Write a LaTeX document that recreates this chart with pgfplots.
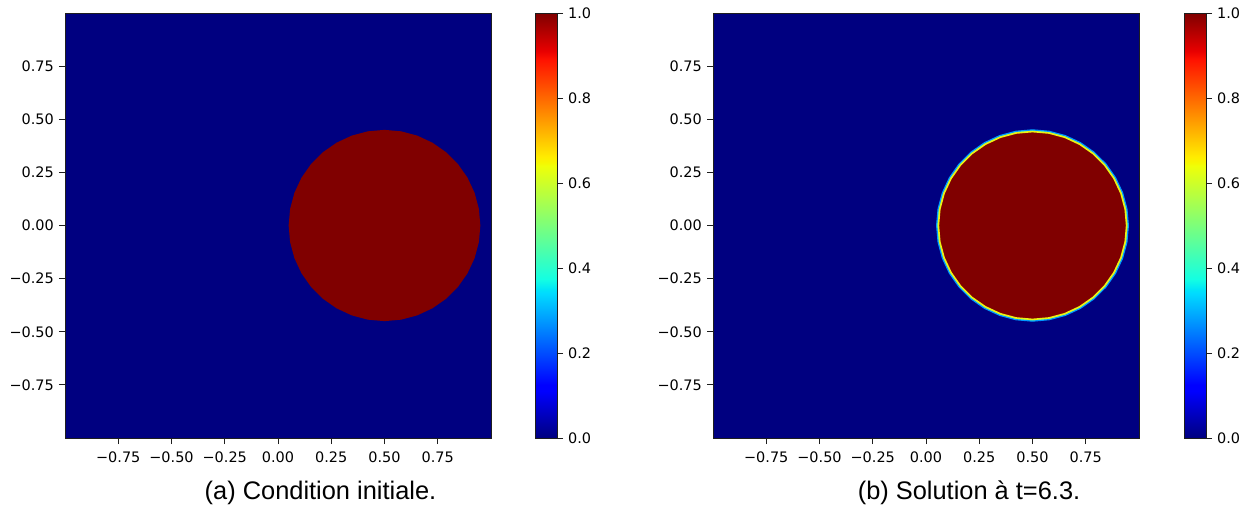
\documentclass[border=0pt]{standalone}
\usepackage{fontspec}
\usepackage{pgfplots}
\usepackage{pgfplotstable}
\pgfplotsset{compat=1.18}
\setmainfont{DejaVu Sans}
\newfontfamily\tickfamily{DejaVu Sans}
\newfontfamily\capfamily{Liberation Sans}
\newcommand\tickfont{\tickfamily\fontsize{14.5}{17}\selectfont}
\newcommand\capfont{\capfamily\fontsize{25.5}{30}\selectfont}

\definecolor{jlow}{rgb}{0,0,0.5}
\definecolor{jhigh}{rgb}{0.5,0,0}
\definecolor{ringA}{RGB}{0,150,255}
\definecolor{ringB}{RGB}{60,255,190}
\definecolor{ringC}{RGB}{235,240,20}
\definecolor{frame}{RGB}{30,30,30}

\pgfplotsset{
  colormap={mpljet}{
    rgb(0pt)=(0,0,0.5); rgb(110pt)=(0,0,1); rgb(125pt)=(0,0,1);
    rgb(340pt)=(0,0.86,1); rgb(350pt)=(0,0.9,0.9677); rgb(375pt)=(0.0806,1,0.8871);
    rgb(640pt)=(0.9355,1,0.0323); rgb(650pt)=(0.9677,0.963,0); rgb(660pt)=(1,0.9259,0);
    rgb(890pt)=(1,0.0741,0); rgb(910pt)=(0.9091,0,0); rgb(1000pt)=(0.5,0,0)
  },
  myax/.style={
    scale only axis, width=426bp, height=425bp,
    xmin=-1, xmax=1, ymin=-1, ymax=1,
    axis on top,
    tick align=outside, tick pos=left,
    major tick length=6bp,
    xtick={-0.75,-0.5,-0.25,0,0.25,0.5,0.75},
    ytick={-0.75,-0.5,-0.25,0,0.25,0.5,0.75},
    xticklabels={−0.75,−0.50,−0.25,0.00,0.25,0.50,0.75},
    yticklabels={−0.75,−0.50,−0.25,0.00,0.25,0.50,0.75},
    ticklabel style={font=\tickfont, inner sep=0pt},
    xticklabel style={anchor=north, yshift=-8bp},
    yticklabel style={anchor=east, xshift=-5bp},
    every tick/.style={frame, line width=0.9bp},
    axis line style={frame, line width=0.9bp},
  },
  cbax/.style={
    scale only axis, width=22bp, height=425bp,
    xmin=0, xmax=1, ymin=0, ymax=1,
    axis on top,
    xtick=\empty,
    ytick={0,0.2,0.4,0.6,0.8,1},
    yticklabels={0.0,0.2,0.4,0.6,0.8,1.0},
    ytick pos=right, yticklabel pos=right,
    tick align=outside, major tick length=6bp,
    yticklabel style={font=\tickfont, inner sep=0pt, anchor=west, xshift=5bp},
    every tick/.style={frame, line width=0.9bp},
    axis line style={frame, line width=0.9bp},
    colormap name=mpljet,
    point meta min=0, point meta max=1,
  },
}

% domain square
\pgfplotstableread{
x y
-1 -1
1 -1
1 1
-1 1
}\domainsq

% colour scale samples (value = y)
\pgfplotstableread{
x y
0 0
1 0
0 0.11
1 0.11
0 0.125
1 0.125
0 0.34
1 0.34
0 0.35
1 0.35
0 0.375
1 0.375
0 0.64
1 0.64
0 0.65
1 0.65
0 0.66
1 0.66
0 0.89
1 0.89
0 0.91
1 0.91
0 1
1 1
}\cbdata

% boundary of the region u=1 (radius 0.45, centre (0.5,0))
\pgfplotstableread{
x y
0.95 0
0.94316 0.07814
0.92286 0.15391
0.88971 0.225
0.84472 0.28926
0.78926 0.34472
0.725 0.38971
0.65391 0.42286
0.57814 0.44316
0.5 0.45
0.42186 0.44316
0.34609 0.42286
0.275 0.38971
0.21074 0.34472
0.15528 0.28926
0.11029 0.225
0.07714 0.15391
0.05684 0.07814
0.05 0
0.05684 -0.07814
0.07714 -0.15391
0.11029 -0.225
0.15528 -0.28926
0.21074 -0.34472
0.275 -0.38971
0.34609 -0.42286
0.42186 -0.44316
0.5 -0.45
0.57814 -0.44316
0.65391 -0.42286
0.725 -0.38971
0.78926 -0.34472
0.84472 -0.28926
0.88971 -0.225
0.92286 -0.15391
0.94316 -0.07814
}\circA

% inner boundary of the smoothed front (radius 0.442)
\pgfplotstableread{
x y
0.942 0
0.93529 0.07675
0.91534 0.15117
0.88278 0.221
0.83859 0.28412
0.78412 0.33859
0.721 0.38278
0.65117 0.41534
0.57675 0.43529
0.5 0.442
0.42325 0.43529
0.34883 0.41534
0.279 0.38278
0.21588 0.33859
0.16141 0.28412
0.11722 0.221
0.08466 0.15117
0.06471 0.07675
0.058 0
0.06471 -0.07675
0.08466 -0.15117
0.11722 -0.221
0.16141 -0.28412
0.21588 -0.33859
0.279 -0.38278
0.34883 -0.41534
0.42325 -0.43529
0.5 -0.442
0.57675 -0.43529
0.65117 -0.41534
0.721 -0.38278
0.78412 -0.33859
0.83859 -0.28412
0.88278 -0.221
0.91534 -0.15117
0.93529 -0.07675
}\circB

\begin{document}
\begin{tikzpicture}
\useasboundingbox (0,0) rectangle (1253bp,509bp);

\begin{axis}[myax, at={(65bp,71bp)}, anchor=south west]
  \addplot[fill=jlow, draw=none] table {\domainsq} -- cycle;
  \addplot[fill=jhigh, draw=none] table {\circA} -- cycle;
\end{axis}
\begin{axis}[cbax, at={(535bp,71bp)}, anchor=south west]
  \addplot[surf, shader=interp, mesh/ordering=x varies, mesh/cols=2, point meta=y] table {\cbdata};
\end{axis}

\begin{axis}[myax, at={(713bp,71bp)}, anchor=south west]
  \addplot[fill=jlow, draw=none] table {\domainsq} -- cycle;
  \addplot[fill=ringB, draw=ringA, line width=1.2bp, line join=round] table {\circA} -- cycle;
  \addplot[fill=jhigh, draw=ringC, line width=1.6bp, line join=round] table {\circB} -- cycle;
\end{axis}
\begin{axis}[cbax, at={(1184bp,71bp)}, anchor=south west]
  \addplot[surf, shader=interp, mesh/ordering=x varies, mesh/cols=2, point meta=y] table {\cbdata};
\end{axis}

\node[font=\capfont, anchor=base] at (320.5bp,9.5bp) {(a) Condition initiale.};
\node[font=\capfont, anchor=base] at (969bp,9.5bp) {(b) Solution à t=6.3.};
\end{tikzpicture}
\end{document}
